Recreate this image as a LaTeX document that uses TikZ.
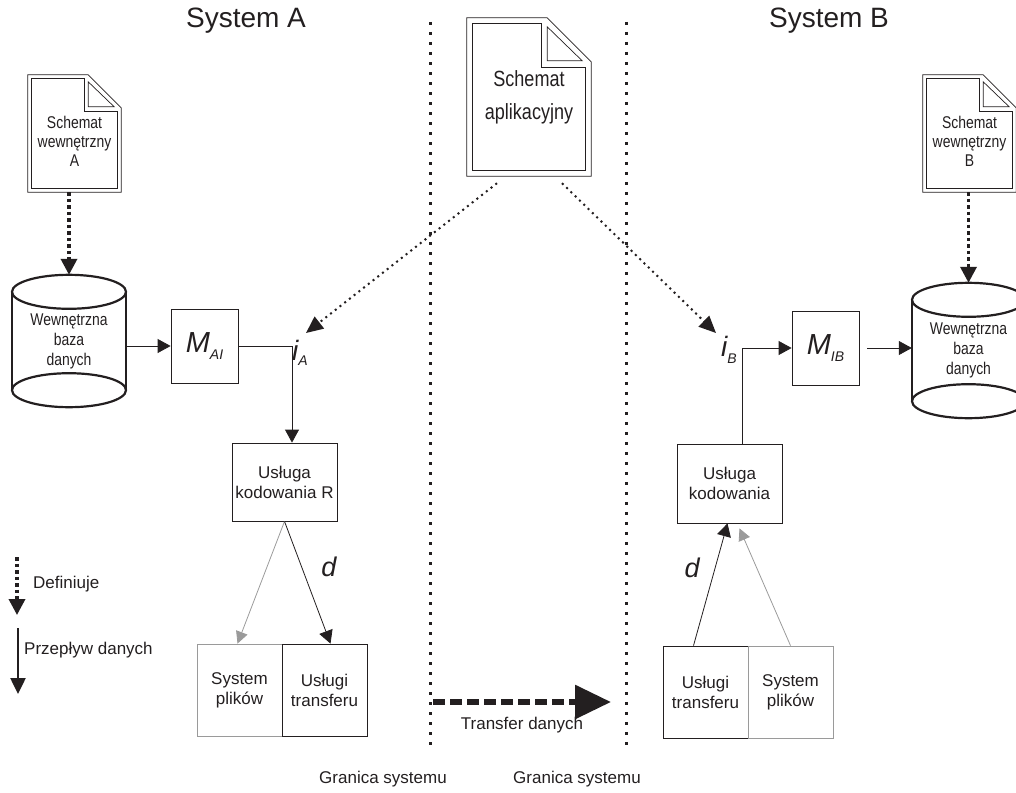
\documentclass[tikz,border=0pt]{standalone}
\usepackage{fontspec}
\setmainfont{Liberation Sans}
\newfontfamily\narrowfont[FakeStretch=0.82]{Liberation Sans}
\usetikzlibrary{arrows.meta,calc}
\definecolor{ink}{HTML}{231F20}
\definecolor{lightgray}{HTML}{9A9A9A}
\newcommand\docoutline[3]{%
  \draw[docline] (#1.north west) -- ([xshift=-#2pt]#1.north east) -- ([yshift=-#2pt]#1.north east) -- (#1.south east) -- (#1.south west) -- cycle;
  \draw[docline] ([shift={(#3pt,-#3pt)}]#1.north west) -- ([shift={(-#2pt-#3pt,-#3pt)}]#1.north east) -- ([shift={(-#2pt-#3pt,-#2pt-#3pt)}]#1.north east) -- ([shift={(-#3pt,-#2pt-#3pt)}]#1.north east) -- ([shift={(-#3pt,#3pt)}]#1.south east) -- ([shift={(#3pt,#3pt)}]#1.south west) -- cycle;
  \draw[docline] ([shift={(-#2pt,-#3pt-3pt)}]#1.north east) -- ([shift={(-#2pt,-#2pt+1pt)}]#1.north east) -- ([shift={(-#3pt-3pt,-#2pt+1pt)}]#1.north east) -- cycle;
}
\newcommand\cylout[3]{% name, x radius, y radius
  \draw[cylline] ([yshift=-#3pt]#1.north west) -- ([yshift=#3pt]#1.south west);
  \draw[cylline] ([yshift=-#3pt]#1.north east) -- ([yshift=#3pt]#1.south east);
  \draw[cylline] ([yshift=-#3pt]#1.north) ellipse [x radius=#2pt, y radius=#3pt];
  \draw[cylline] ([yshift=#3pt]#1.south) ellipse [x radius=#2pt, y radius=#3pt];
}
\begin{document}
\begin{tikzpicture}[x=1pt,y=-1pt,
  every node/.style={text=ink},
  title/.style={font=\fontsize{28}{28}\selectfont, inner sep=0pt, anchor=base},
  lbl/.style={font=\fontsize{17}{20}\selectfont, inner sep=0pt},
  box/.style={draw=ink, line width=0.8pt, inner sep=0pt, align=center, font=\fontsize{17}{20}\selectfont},
  graybox/.style={box, draw=lightgray},
  docline/.style={draw=ink, line width=0.7pt},
  doctext/.style={font=\narrowfont\fontsize{17}{19}\selectfont, align=center, inner sep=0pt},
  cylline/.style={draw=ink, line width=2.2pt},
  flow/.style={draw=ink, line width=0.8pt, -{Triangle[length=13pt,width=14pt]}},
  grayflow/.style={draw=lightgray, line width=0.8pt, -{Triangle[length=12pt,width=12pt,color=lightgray]}},
  defarrow/.style={draw=ink, line width=3.5pt, dash pattern=on 3.5pt off 3pt, -{Triangle[length=16pt,width=16pt]}},
  diagdef/.style={draw=ink, line width=2pt, dash pattern=on 2pt off 4pt, -{Triangle[length=17pt,width=15pt]}},
  boundary/.style={draw=ink, line width=3pt, dash pattern=on 3pt off 7pt},
  legflow/.style={draw=ink, line width=2.5pt, -{Triangle[length=16pt,width=15pt]}},
  transfer/.style={draw=ink, line width=6pt, dash pattern=on 12pt off 5pt, -{Triangle[length=36pt,width=33pt]}},
  ilabel/.style={inner sep=0pt, anchor=base west}
]
\clip (0,0) rectangle (1016,792);

% titles
\node[title] (tA) at (246,28) {System A};
\node[title] (tB) at (829,28) {System B};

% system boundaries
\coordinate (bL1) at (430,22); \coordinate (bL2) at (430,752);
\coordinate (bR1) at (626,22); \coordinate (bR2) at (626,752);
\draw[boundary] (bL1) -- (bL2);
\draw[boundary] (bR1) -- (bR2);
\node[lbl, anchor=base] (gL) at (383,783) {Granica systemu};
\node[lbl, anchor=base] (gR) at (577,783) {Granica systemu};

% documents
\node[minimum width=124pt, minimum height=158pt, inner sep=0pt] (docApp) at (529,97) {};
\docoutline{docApp}{44}{6}
\node[doctext, font=\narrowfont\fontsize{22}{33}\selectfont] (docAppT) at (529,97) {Schemat\\aplikacyjny};

\node[minimum width=93pt, minimum height=117pt, inner sep=0pt] (docA) at (74.5,133.5) {};
\docoutline{docA}{33}{4}
\node[doctext] (docAT) at (74.5,141) {Schemat\\wewnętrzny\\A};

\node[minimum width=93pt, minimum height=117pt, inner sep=0pt] (docB) at (969.5,133.5) {};
\docoutline{docB}{33}{4}
\node[doctext] (docBT) at (969.5,141) {Schemat\\wewnętrzny\\B};

% cylinders
\node[doctext, font=\narrowfont\fontsize{17}{20}\selectfont, minimum width=114pt, minimum height=132pt] (cylA) at (69,341) {Wewnętrzna\\baza\\danych};
\cylout{cylA}{57}{17}
\node[doctext, font=\narrowfont\fontsize{17}{20}\selectfont, minimum width=113pt, minimum height=135pt] (cylB) at (968.5,350.5) {Wewnętrzna\\baza\\danych};
\cylout{cylB}{56.5}{17}

% mapping boxes
\node[box, minimum width=67pt, minimum height=74pt] (MAI) at (204.5,346)
  {{\fontsize{29}{29}\selectfont\itshape M}\raisebox{-7pt}{\fontsize{14}{14}\selectfont\itshape AI}};
\node[box, minimum width=67pt, minimum height=74pt] (MIB) at (825.5,348)
  {{\fontsize{29}{29}\selectfont\itshape M}\raisebox{-7pt}{\fontsize{14}{14}\selectfont\itshape IB}};

% encoding services
\node[box, minimum width=105pt, minimum height=78pt] (UKA) at (284.5,482) {Usługa\\kodowania R};
\node[box, minimum width=105pt, minimum height=79pt] (UKB) at (729.5,483.5) {Usługa\\kodowania};

% bottom boxes
\node[graybox, minimum width=85pt, minimum height=92pt] (SPA) at (239.5,690) {System\\plików};
\node[box, minimum width=85pt, minimum height=92pt] (UTA) at (324.5,690) {Usługi\\transferu};
\node[box, minimum width=85pt, minimum height=92pt] (UTB) at (705.5,692) {Usługi\\transferu};
\node[graybox, minimum width=85pt, minimum height=92pt] (SPB) at (790.5,692) {System\\plików};

% interface labels
\node[ilabel] (iA) at (292,360) {{\fontsize{28}{28}\selectfont\itshape i}\raisebox{-5pt}{\fontsize{14}{14}\selectfont\itshape A}};
\node[ilabel] (iB) at (721,356) {{\fontsize{28}{28}\selectfont\itshape i}\raisebox{-7pt}{\fontsize{14}{14}\selectfont\itshape B}};
\node[inner sep=0pt, font=\fontsize{27}{27}\selectfont\itshape] (dA) at (329,567) {d};
\node[inner sep=0pt, font=\fontsize{27}{27}\selectfont\itshape] (dB) at (692,568) {d};

% defines arrows
\draw[defarrow] (docA.south -| cylA.north) -- (cylA.north);
\draw[defarrow] (docB.south -| cylB.north) -- (cylB.north);
\coordinate (iAtip) at (306,333);
\coordinate (iBtip) at (716,333);
\draw[diagdef] ([shift={(-32pt,-7pt)}]docApp.south) -- (iAtip);
\draw[diagdef] ([shift={(33pt,-7pt)}]docApp.south) -- (iBtip);

% data flow system A
\draw[flow] (cylA.east |- MAI.west) -- (MAI.west);
\coordinate (cA) at (292,346);
\draw[draw=ink, line width=0.8pt] (MAI.east) -- (cA);
\draw[flow] (cA) -- (cA |- UKA.north);
\draw[grayflow] (UKA.south) -- ([xshift=-2pt]SPA.north);
\draw[flow] (UKA.south) -- ([xshift=6pt]UTA.north);

% data flow system B
\coordinate (cB) at (742,348);
\draw[draw=ink, line width=0.8pt] (cB |- UKB.north) -- (cB);
\draw[flow] (cB) -- (MIB.west);
\draw[flow] ([xshift=8pt]MIB.east) -- (cylB.west |- MIB.east);
\draw[flow] ([xshift=-12pt]UTB.north) -- ([xshift=-2pt]UKB.south);
\draw[grayflow] (SPB.north) -- ([shift={(10pt,-5pt)}]UKB.south);

% transfer
\coordinate (trs) at (433,702);
\coordinate (tre) at (611,702);
\draw[transfer] (trs) -- (tre);
\node[lbl, anchor=base] (trl) at (522,729) {Transfer danych};

% legend
\coordinate (lg1s) at (17,557);
\coordinate (lg1e) at (17,615);
\draw[defarrow] (lg1s) -- (lg1e);
\node[lbl, anchor=base west] (lgdef) at (33,588) {Definiuje};
\coordinate (lg2s) at (18,628);
\coordinate (lg2e) at (18,694);
\draw[legflow] (lg2s) -- (lg2e);
\node[lbl, anchor=base west] (lgflow) at (24,654) {Przepływ danych};
\end{tikzpicture}
\end{document}
